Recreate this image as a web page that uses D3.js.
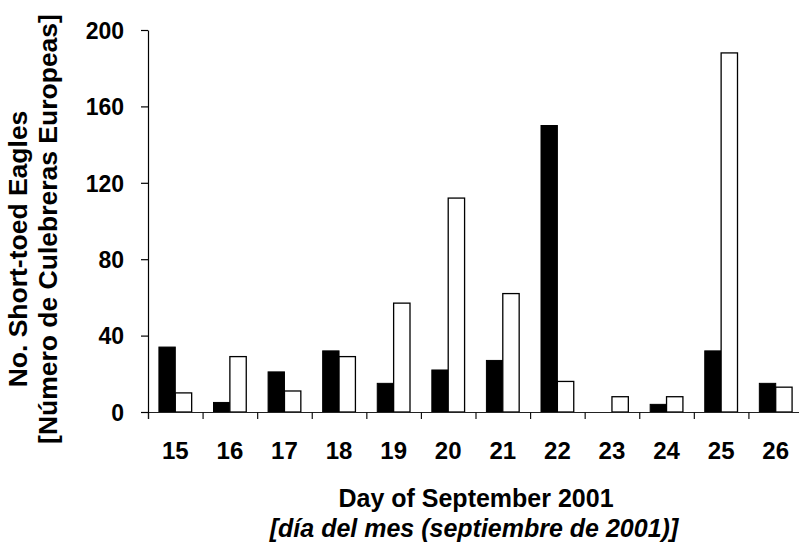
<!DOCTYPE html>
<html>
<head>
<meta charset="utf-8">
<script src="https://cdn.jsdelivr.net/npm/d3@7"></script>
<style>
  html, body { margin: 0; padding: 0; background: #fff; }
  svg { display: block; font-family: Arial, "Liberation Sans", sans-serif; }
</style>
</head>
<body>
<svg id="chart" width="799" height="545"></svg>
<script>
const days = ["15","16","17","18","19","20","21","22","23","24","25","26"];
const seriesA = [34, 5, 21, 32, 15, 22, 27, 150, 0, 4, 32, 15];   // black bars
const seriesB = [10, 29, 11, 29, 57, 112, 62, 16, 8, 8, 188, 13]; // white bars
const yTicks = [0, 40, 80, 120, 160, 200];
const yTitle1 = "No. Short-toed Eagles";
const yTitle2 = "[Número de Culebreras Europeas]";
const xTitle1 = "Day of September 2001";
const xTitle2 = "[día del mes (septiembre de 2001)]";

const svg = d3.select("#chart");
const x0 = 148, x1 = 803, yTop = 30, yBot = 412;

const x = d3.scaleBand().domain(days).range([x0, x1]).paddingInner(0.4).paddingOuter(0.2);
const xs = d3.scaleBand().domain(["a", "b"]).range([0, x.bandwidth()]);
const xb = d3.scaleLinear().domain([0, days.length]).range([x0, x1]);
const y = d3.scaleLinear().domain([0, 200]).range([yBot, yTop]);

const data = days.map((d, i) => ({ day: d, a: seriesA[i], b: seriesB[i] }));

// bars
const g = svg.append("g");
const groups = g.selectAll("g.day").data(data).join("g")
  .attr("transform", d => `translate(${x(d.day)},0)`);
groups.append("rect")
  .attr("x", xs("a")).attr("width", xs.bandwidth())
  .attr("y", d => y(d.a)).attr("height", d => y(0) - y(d.a))
  .attr("fill", "#000").attr("stroke", "#000").attr("stroke-width", 1)
  .attr("visibility", d => d.a > 0 ? "visible" : "hidden");
groups.append("rect")
  .attr("x", xs("b")).attr("width", xs.bandwidth())
  .attr("y", d => y(d.b)).attr("height", d => y(0) - y(d.b))
  .attr("fill", "#fff").attr("stroke", "#000").attr("stroke-width", 1.3);

// x axis: boundary ticks
const xAxisTicks = svg.append("g").attr("transform", `translate(0,${yBot})`)
  .call(d3.axisBottom(xb).tickValues(d3.range(0, days.length)).tickSize(7).tickFormat(""));
xAxisTicks.select(".domain").attr("stroke", "#222").attr("stroke-width", 1.2);
xAxisTicks.selectAll(".tick line").attr("stroke", "#111").attr("stroke-width", 1.2);

// x labels
const xAxisLabels = svg.append("g").attr("transform", `translate(0,${yBot})`)
  .call(d3.axisBottom(x).tickSize(0).tickPadding(30));
xAxisLabels.select(".domain").remove();
xAxisLabels.selectAll("text").attr("font-size", 24).attr("font-weight", "bold")
  .attr("font-family", "Arial, 'Liberation Sans', sans-serif").attr("fill", "#000");

// y axis
const yAxis = svg.append("g").attr("transform", `translate(${x0},0)`)
  .call(d3.axisLeft(y).tickValues(yTicks).tickSize(7).tickPadding(17).tickSizeOuter(0));
yAxis.select(".domain").attr("stroke", "#000").attr("stroke-width", 1.2);
yAxis.selectAll(".tick line").attr("stroke", "#000").attr("stroke-width", 1.2);
yAxis.selectAll("text").attr("font-size", 23).attr("font-weight", "bold")
  .attr("font-family", "Arial, 'Liberation Sans', sans-serif").attr("fill", "#000")
  .attr("dy", "0.36em");

// y titles
svg.append("text").attr("transform", "translate(27,249) rotate(-90) scale(1.06,1)")
  .attr("text-anchor", "middle").attr("font-size", 25).attr("font-weight", "bold").text(yTitle1);
svg.append("text").attr("transform", "translate(57,229) rotate(-90) scale(1.06,1)")
  .attr("text-anchor", "middle").attr("font-size", 25).attr("font-weight", "bold").text(yTitle2);

// x titles
svg.append("text").attr("x", 476).attr("y", 507)
  .attr("text-anchor", "middle").attr("font-size", 25).attr("font-weight", "bold").text(xTitle1);
svg.append("text").attr("x", 474).attr("y", 537)
  .attr("text-anchor", "middle").attr("font-size", 25).attr("font-weight", "bold")
  .attr("font-style", "italic").text(xTitle2);
</script>
</body>
</html>
